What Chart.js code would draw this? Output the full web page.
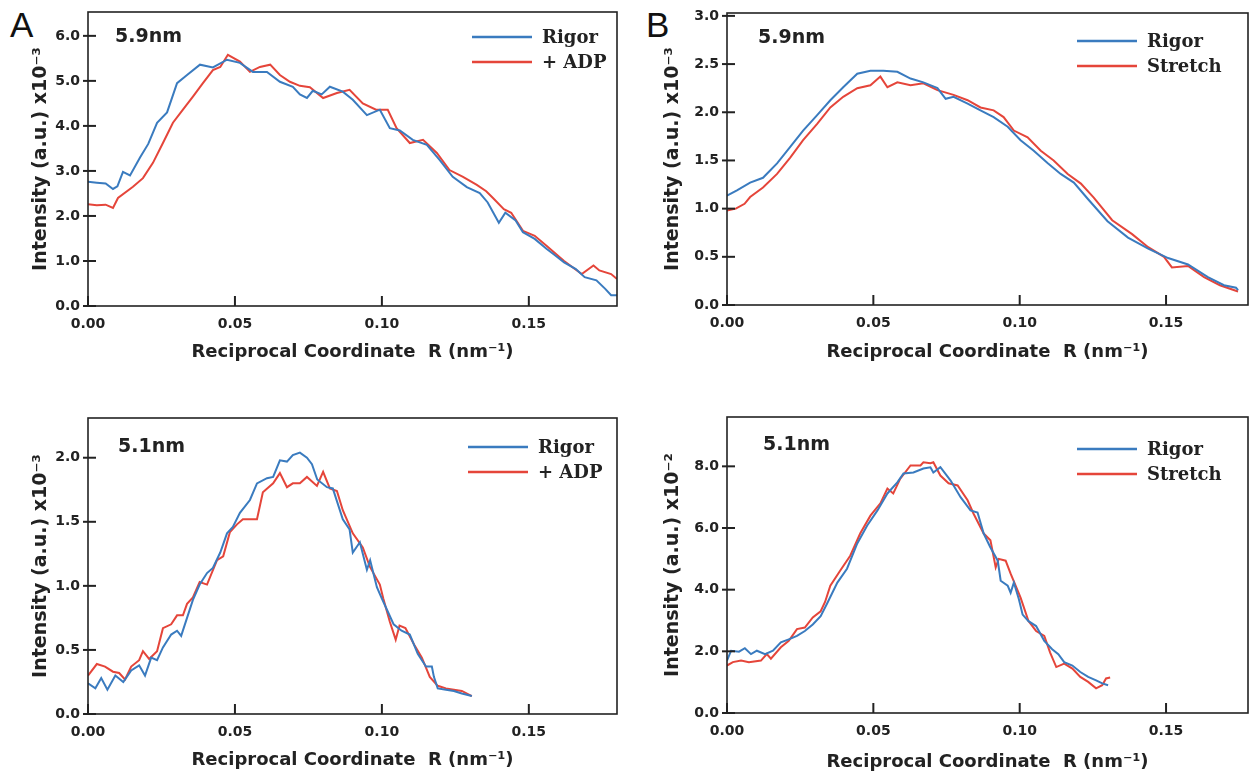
<!DOCTYPE html>
<html>
<head>
<meta charset="utf-8">
<script src="https://cdn.jsdelivr.net/npm/chart.js@4.4.0/dist/chart.umd.min.js"></script>
<style>
  body { margin: 0; background: #fff; width: 1252px; height: 773px; overflow: hidden; position: relative; }
  canvas { position: absolute; }
  .letter { position: absolute; font: 35px "Liberation Sans", Arial, sans-serif; color: #111; }
</style>
</head>
<body>
<div class="letter" style="left:10px;top:5px">A</div>
<div class="letter" style="left:646px;top:5px">B</div>
<canvas id="a59" width="630" height="385" style="left:0;top:0"></canvas>
<canvas id="b59" width="616" height="385" style="left:636px;top:0"></canvas>
<canvas id="a51" width="630" height="373" style="left:0;top:400px"></canvas>
<canvas id="b51" width="616" height="373" style="left:636px;top:400px"></canvas>
<script>
// ---- data (R in nm^-1, intensity in axis units) ----
const xTicks = [0, 0.05, 0.10, 0.15];
const yTicksA59 = [0, 1, 2, 3, 4, 5, 6];
const yTicksB59 = [0, 0.5, 1.0, 1.5, 2.0, 2.5, 3.0];
const yTicksA51 = [0, 0.5, 1.0, 1.5, 2.0];
const yTicksB51 = [0, 2, 4, 6, 8];

// A, 5.9nm
const a59RigorR = [0, 0.003, 0.006, 0.0085, 0.010, 0.0119, 0.0143, 0.0177, 0.0205, 0.0235, 0.0269, 0.0303, 0.0337, 0.0381, 0.0425, 0.0473, 0.0517, 0.0561, 0.0609, 0.0653, 0.0697, 0.0721, 0.0745, 0.0765, 0.0795, 0.0823, 0.0867, 0.0901, 0.0949, 0.0993, 0.1027, 0.1061, 0.1105, 0.1153, 0.1197, 0.1241, 0.1289, 0.1333, 0.136, 0.1398, 0.142, 0.1455, 0.148, 0.152, 0.156, 0.159, 0.162, 0.166, 0.169, 0.173, 0.176, 0.178, 0.18];
const a59RigorI = [2.76, 2.74, 2.72, 2.60, 2.66, 2.98, 2.90, 3.30, 3.60, 4.07, 4.30, 4.95, 5.13, 5.36, 5.30, 5.47, 5.40, 5.20, 5.20, 4.98, 4.87, 4.70, 4.62, 4.78, 4.70, 4.87, 4.76, 4.58, 4.24, 4.36, 3.95, 3.90, 3.69, 3.58, 3.24, 2.87, 2.64, 2.51, 2.30, 1.85, 2.07, 1.90, 1.64, 1.49, 1.27, 1.12, 0.97, 0.82, 0.64, 0.57, 0.38, 0.24, 0.24];
const a59AdpR = [0, 0.003, 0.006, 0.0085, 0.0102, 0.0153, 0.0187, 0.0221, 0.0255, 0.0289, 0.0323, 0.0357, 0.0391, 0.0425, 0.045, 0.0476, 0.0517, 0.0551, 0.0585, 0.062, 0.0653, 0.0687, 0.0721, 0.0755, 0.080, 0.0847, 0.089, 0.0935, 0.098, 0.102, 0.105, 0.1095, 0.114, 0.1187, 0.123, 0.1276, 0.1323, 0.1355, 0.1378, 0.1415, 0.144, 0.148, 0.152, 0.156, 0.162, 0.168, 0.172, 0.174, 0.178, 0.18];
const a59AdpI = [2.26, 2.24, 2.25, 2.18, 2.40, 2.65, 2.84, 3.18, 3.62, 4.07, 4.36, 4.65, 4.95, 5.24, 5.31, 5.58, 5.43, 5.20, 5.31, 5.36, 5.13, 4.98, 4.89, 4.86, 4.62, 4.73, 4.80, 4.50, 4.36, 4.36, 3.95, 3.62, 3.69, 3.40, 3.02, 2.87, 2.69, 2.55, 2.40, 2.15, 2.07, 1.67, 1.56, 1.34, 1.00, 0.71, 0.90, 0.79, 0.71, 0.60];

// B, 5.9nm
const b59RigorR = [0, 0.0034, 0.0079, 0.0123, 0.0171, 0.0216, 0.026, 0.0308, 0.0353, 0.0397, 0.0445, 0.049, 0.0534, 0.0582, 0.0627, 0.0671, 0.0719, 0.0747, 0.0774, 0.0822, 0.0866, 0.0911, 0.0959, 0.1003, 0.1048, 0.1096, 0.114, 0.1185, 0.1233, 0.130, 0.137, 0.1439, 0.1507, 0.1575, 0.1643, 0.1698, 0.1739, 0.1746];
const b59RigorI = [1.135, 1.19, 1.27, 1.32, 1.47, 1.64, 1.81, 1.97, 2.125, 2.26, 2.40, 2.43, 2.43, 2.42, 2.35, 2.31, 2.25, 2.14, 2.16, 2.09, 2.02, 1.95, 1.85, 1.71, 1.60, 1.47, 1.36, 1.27, 1.10, 0.87, 0.70, 0.586, 0.487, 0.42, 0.29, 0.205, 0.18, 0.155];
const b59StretchR = [0, 0.003, 0.006, 0.0079, 0.0123, 0.0171, 0.0216, 0.026, 0.0308, 0.0353, 0.0397, 0.0445, 0.049, 0.0524, 0.0548, 0.0582, 0.0627, 0.0671, 0.0719, 0.0774, 0.0822, 0.0866, 0.0911, 0.0945, 0.098, 0.1027, 0.1072, 0.1116, 0.1164, 0.1209, 0.1253, 0.1316, 0.1384, 0.1439, 0.1493, 0.152, 0.1575, 0.163, 0.1684, 0.1746];
const b59StretchI = [0.98, 1.00, 1.05, 1.12, 1.22, 1.36, 1.53, 1.71, 1.88, 2.05, 2.16, 2.25, 2.28, 2.37, 2.26, 2.31, 2.28, 2.30, 2.23, 2.18, 2.125, 2.05, 2.02, 1.95, 1.81, 1.74, 1.60, 1.50, 1.36, 1.26, 1.115, 0.88, 0.735, 0.60, 0.50, 0.39, 0.405, 0.29, 0.205, 0.14];

// A, 5.1nm
const a51RigorR = [0, 0.0025, 0.0045, 0.0066, 0.0093, 0.012, 0.0147, 0.0174, 0.0194, 0.0215, 0.0235, 0.0255, 0.0283, 0.0303, 0.0317, 0.0337, 0.0357, 0.038, 0.0405, 0.0425, 0.045, 0.0473, 0.0493, 0.0517, 0.0551, 0.0575, 0.0609, 0.063, 0.0653, 0.0677, 0.0697, 0.0721, 0.0745, 0.0762, 0.078, 0.0813, 0.0833, 0.0867, 0.089, 0.0901, 0.0925, 0.0949, 0.096, 0.0983, 0.100, 0.102, 0.104, 0.1067, 0.1095, 0.1122, 0.115, 0.117, 0.1177, 0.119, 0.1218, 0.1245, 0.1272, 0.1306];
const a51RigorI = [0.24, 0.20, 0.28, 0.19, 0.30, 0.25, 0.34, 0.38, 0.30, 0.44, 0.42, 0.52, 0.62, 0.65, 0.61, 0.75, 0.89, 1.01, 1.10, 1.14, 1.26, 1.41, 1.46, 1.57, 1.67, 1.80, 1.84, 1.85, 1.98, 1.97, 2.02, 2.04, 2.00, 1.95, 1.83, 1.77, 1.76, 1.52, 1.44, 1.26, 1.34, 1.125, 1.20, 0.99, 0.90, 0.80, 0.70, 0.65, 0.62, 0.47, 0.37, 0.37, 0.29, 0.20, 0.19, 0.18, 0.16, 0.14];
const a51AdpR = [0, 0.003, 0.0058, 0.0085, 0.0106, 0.0126, 0.0147, 0.0174, 0.0187, 0.0208, 0.0235, 0.0255, 0.0283, 0.0303, 0.0323, 0.0337, 0.0357, 0.038, 0.0405, 0.0439, 0.046, 0.0483, 0.0507, 0.0527, 0.0575, 0.0595, 0.063, 0.0653, 0.0677, 0.0697, 0.0721, 0.0745, 0.0779, 0.080, 0.0823, 0.0847, 0.0867, 0.0901, 0.0935, 0.0959, 0.0993, 0.1005, 0.1027, 0.1047, 0.106, 0.108, 0.111, 0.1136, 0.1163, 0.119, 0.1218, 0.1245, 0.1272, 0.1306];
const a51AdpI = [0.30, 0.39, 0.37, 0.33, 0.32, 0.27, 0.37, 0.42, 0.49, 0.43, 0.49, 0.67, 0.70, 0.77, 0.77, 0.86, 0.91, 1.03, 1.01, 1.20, 1.23, 1.42, 1.48, 1.52, 1.52, 1.73, 1.80, 1.88, 1.77, 1.80, 1.80, 1.85, 1.78, 1.89, 1.76, 1.74, 1.59, 1.41, 1.30, 1.15, 1.01, 0.90, 0.72, 0.58, 0.69, 0.67, 0.54, 0.44, 0.29, 0.22, 0.20, 0.19, 0.18, 0.14];

// B, 5.1nm
const b51RigorR = [0, 0.0014, 0.0041, 0.0061, 0.0082, 0.0102, 0.013, 0.0157, 0.0184, 0.0211, 0.0239, 0.0266, 0.0293, 0.032, 0.0342, 0.0377, 0.041, 0.0445, 0.0479, 0.0514, 0.0548, 0.0582, 0.0603, 0.0637, 0.0671, 0.0695, 0.0705, 0.0729, 0.0764, 0.0798, 0.0832, 0.0856, 0.0877, 0.090, 0.0925, 0.0935, 0.0959, 0.0969, 0.098, 0.0997, 0.101, 0.103, 0.1056, 0.1084, 0.1111, 0.1132, 0.1152, 0.118, 0.1207, 0.1234, 0.1261, 0.1282, 0.1302];
const b51RigorI = [1.70, 2.02, 1.99, 2.10, 1.91, 2.02, 1.91, 2.02, 2.29, 2.39, 2.50, 2.66, 2.87, 3.14, 3.55, 4.23, 4.68, 5.50, 6.08, 6.57, 7.12, 7.48, 7.77, 7.80, 7.93, 7.97, 7.80, 7.97, 7.54, 7.00, 6.57, 6.50, 5.82, 5.37, 4.94, 4.29, 4.13, 3.90, 4.23, 3.70, 3.19, 2.98, 2.82, 2.34, 2.07, 1.91, 1.65, 1.54, 1.33, 1.17, 1.06, 0.96, 0.90];
const b51StretchR = [0, 0.002, 0.0048, 0.0075, 0.0116, 0.0136, 0.015, 0.0184, 0.0211, 0.0239, 0.0266, 0.0293, 0.032, 0.0335, 0.0353, 0.0387, 0.0421, 0.0455, 0.049, 0.0524, 0.0548, 0.0568, 0.0592, 0.0627, 0.0661, 0.0671, 0.0695, 0.0705, 0.0729, 0.0757, 0.0788, 0.0822, 0.0842, 0.0877, 0.090, 0.0918, 0.0928, 0.0952, 0.0969, 0.1003, 0.103, 0.1056, 0.1084, 0.1104, 0.1125, 0.1152, 0.118, 0.1207, 0.1234, 0.1261, 0.1282, 0.1295, 0.1309];
const b51StretchI = [1.54, 1.65, 1.70, 1.65, 1.70, 1.91, 1.76, 2.13, 2.34, 2.72, 2.77, 3.10, 3.30, 3.60, 4.13, 4.62, 5.10, 5.82, 6.40, 6.80, 7.28, 7.12, 7.60, 8.03, 8.03, 8.13, 8.10, 8.13, 7.70, 7.45, 7.38, 6.90, 6.47, 5.82, 5.60, 4.72, 5.00, 4.94, 4.52, 3.74, 2.98, 2.66, 2.50, 1.96, 1.49, 1.60, 1.44, 1.17, 1.01, 0.80, 0.90, 1.12, 1.15];

const BLUE = "#3a7bbf";
const RED = "#e5453a";
const INK = "#222";

const pts = (r, v) => r.map((x, i) => ({ x, y: v[i] }));

// box, inward ticks, "5.9nm" label and legend drawn inside the plot area
const decor = {
    id: "decor",
    afterDraw(chart, args, opts) {
        const { ctx, chartArea: a, scales: { x, y } } = chart;
        ctx.save();
        ctx.strokeStyle = INK;
        ctx.lineWidth = 1.6;
        ctx.strokeRect(a.left, a.top, a.right - a.left, a.bottom - a.top);
        ctx.lineWidth = 2;
        x.ticks.forEach(t => {
            const px = x.getPixelForValue(t.value);
            ctx.beginPath(); ctx.moveTo(px, a.bottom); ctx.lineTo(px, a.bottom - 10); ctx.stroke();
        });
        y.ticks.forEach(t => {
            const py = y.getPixelForValue(t.value);
            ctx.beginPath(); ctx.moveTo(a.left - 5, py); ctx.lineTo(a.left + 8, py); ctx.stroke();
        });
        ctx.fillStyle = INK;
        ctx.textBaseline = "middle";
        ctx.font = 'bold 19px "DejaVu Sans"';
        ctx.fillText(opts.label, a.left + opts.labelDx, a.top + opts.labelDy);
        ctx.font = 'bold 18px "DejaVu Serif"';
        chart.data.datasets.forEach((ds, i) => {
            const lx = a.right - opts.legendDx;
            const ly = a.top + opts.legendDy + i * 25;
            ctx.strokeStyle = ds.borderColor;
            ctx.lineWidth = 2.5;
            ctx.beginPath(); ctx.moveTo(lx, ly); ctx.lineTo(lx + 60, ly); ctx.stroke();
            ctx.fillText(ds.label, lx + 70, ly + 1);
        });
        ctx.restore();
    }
};

function renderPanel(id, p) {
    const el = document.getElementById(id);
    if (!el) return;
    new Chart(el, {
        type: "line",
        data: {
            datasets: [
                { label: "Rigor", data: pts(p.rigorR, p.rigorI), borderColor: BLUE, borderWidth: 2, pointRadius: 0, tension: 0 },
                { label: p.otherLabel, data: pts(p.otherR, p.otherI), borderColor: RED, borderWidth: 2, pointRadius: 0, tension: 0 }
            ]
        },
        options: {
            responsive: false,
            animation: false,
            layout: { padding: { top: p.padTop, right: p.padRight, left: 0, bottom: 0 } },
            plugins: {
                legend: { display: false },
                tooltip: { enabled: false },
                decor: p.decor
            },
            scales: {
                x: {
                    type: "linear",
                    min: 0,
                    max: p.xMax,
                    afterBuildTicks: s => { s.ticks = xTicks.map(v => ({ value: v })); },
                    afterFit: s => { s.height = p.xHeight; s.paddingLeft = 0; s.paddingRight = 0; },
                    grid: { display: false, drawTicks: false },
                    border: { display: false },
                    ticks: {
                        padding: 10,
                        maxRotation: 0,
                        autoSkip: false,
                        color: INK,
                        font: { family: "DejaVu Sans", size: 14, weight: "bold" },
                        callback: v => v.toFixed(2)
                    },
                    title: {
                        display: true,
                        text: "Reciprocal Coordinate  R (nm\u207B\u00B9)",
                        color: INK,
                        font: { family: "DejaVu Sans", size: 18, weight: "bold" },
                        padding: { top: 0, bottom: p.xTitlePad }
                    }
                },
                y: {
                    min: 0,
                    max: p.yMax,
                    afterBuildTicks: s => { s.ticks = p.yTicks.map(v => ({ value: v })); },
                    afterFit: s => { s.width = p.yWidth; s.paddingTop = 0; s.paddingBottom = 0; },
                    grid: { display: false, drawTicks: false },
                    border: { display: false },
                    ticks: {
                        padding: 8,
                        autoSkip: false,
                        color: INK,
                        font: { family: "DejaVu Sans", size: 14, weight: "bold" },
                        callback: v => v.toFixed(1)
                    },
                    title: {
                        display: true,
                        text: p.yTitle,
                        color: INK,
                        font: { family: "DejaVu Sans", size: 19, weight: "bold" },
                        padding: { top: p.yTitlePad, bottom: 0 }
                    }
                }
            }
        },
        plugins: [decor]
    });
}

renderPanel("a59", {
    rigorR: a59RigorR, rigorI: a59RigorI, otherLabel: "+ ADP", otherR: a59AdpR, otherI: a59AdpI,
    xMax: 0.18, yMax: 6.53, yTicks: yTicksA59, yTitle: "Intensity (a.u.) x10\u207B\u00B3",
    padTop: 12, padRight: 13, xHeight: 79, yWidth: 88, xTitlePad: 22, yTitlePad: 30,
    decor: { label: "5.9nm", labelDx: 27, labelDy: 25, legendDx: 145, legendDy: 25 }
});
renderPanel("b59", {
    rigorR: b59RigorR, rigorI: b59RigorI, otherLabel: "Stretch", otherR: b59StretchR, otherI: b59StretchI,
    xMax: 0.178, yMax: 3.03, yTicks: yTicksB59, yTitle: "Intensity (a.u.) x10\u207B\u00B3",
    padTop: 13, padRight: 4, xHeight: 80, yWidth: 91, xTitlePad: 22, yTitlePad: 26,
    decor: { label: "5.9nm", labelDx: 31, labelDy: 25, legendDx: 171, legendDy: 28 }
});
renderPanel("a51", {
    rigorR: a51RigorR, rigorI: a51RigorI, otherLabel: "+ ADP", otherR: a51AdpR, otherI: a51AdpI,
    xMax: 0.18, yMax: 2.31, yTicks: yTicksA51, yTitle: "Intensity (a.u.) x10\u207B\u00B3",
    padTop: 18, padRight: 13, xHeight: 59, yWidth: 88, xTitlePad: 2, yTitlePad: 30,
    decor: { label: "5.1nm", labelDx: 30, labelDy: 29, legendDx: 149, legendDy: 29 }
});
renderPanel("b51", {
    rigorR: b51RigorR, rigorI: b51RigorI, otherLabel: "Stretch", otherR: b51StretchR, otherI: b51StretchI,
    xMax: 0.178, yMax: 9.6, yTicks: yTicksB51, yTitle: "Intensity (a.u.) x10\u207B\u00B2",
    padTop: 17, padRight: 4, xHeight: 60, yWidth: 91, xTitlePad: 0, yTitlePad: 26,
    decor: { label: "5.1nm", labelDx: 36, labelDy: 28, legendDx: 171, legendDy: 32 }
});
</script>
</body>
</html>
